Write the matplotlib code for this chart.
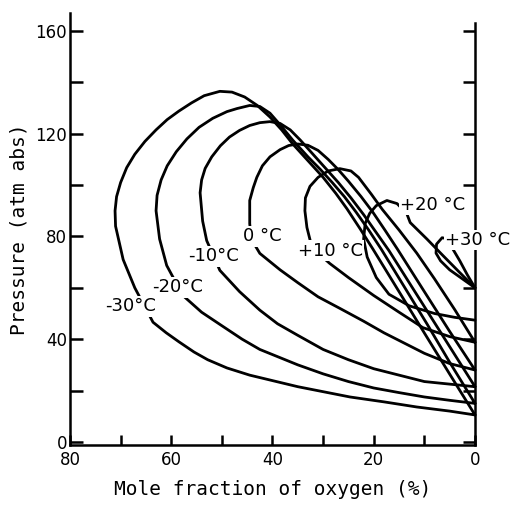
import matplotlib
matplotlib.use("Agg")
import matplotlib.pyplot as plt

# phase envelopes: mole fraction of O2 (%) vs pressure (atm abs)
# each list runs from x=0 along the lower branch, over the top, and back down to x=0
m30_x = [0, 5, 11.5, 18, 24.7, 35, 44.5, 49, 52.8, 55.5, 58.5, 61, 63.6, 67.2, 69.5, 71,
         71.1, 70.8, 70, 68.8, 67.2, 65.2, 63, 60.8, 58.5, 56, 53.5, 50.4, 48, 45.5, 43,
         40.5, 38.2, 36, 33, 30, 27.5, 25.3, 22.7, 20.2, 15, 10, 5, 0]
m30_p = [10.5, 12, 13.6, 15.6, 17.5, 21.5, 26, 28.8, 32, 35, 39, 42.5, 46.6, 60, 71, 84,
         90, 95.5, 101, 106.8, 112, 117, 121.5, 125.5, 128.8, 132, 134.8, 136.5, 136.2,
         134.3, 131, 126.5, 121.5, 116, 109.5, 103, 96.8, 90.8, 83, 75.2, 58.5, 42.4, 26.4,
         10.5]

m20_x = [0, 5, 10, 15, 20, 25, 30, 35, 38.5, 42.5, 46, 50.2, 54, 57.7, 60.9, 62.3, 63,
         62.8, 62, 60.8, 59, 56.9, 54.5, 51.8, 49, 47, 44.5, 42.5, 40.5, 38.5, 36, 33,
         30.5, 28.2, 25.8, 23.5, 21, 18.5, 14, 9.5, 5, 0]
m20_p = [15, 16.2, 17.5, 19.2, 21, 23.5, 26.5, 30, 32.8, 36, 40, 45.5, 50.5, 57, 68.7, 79,
         90, 96, 102, 107.5, 113, 118, 122.5, 126, 128.6, 129.8, 131, 130.6, 128, 123.5,
         117.5, 111, 106, 101, 95.5, 89.5, 82.5, 75, 60.5, 46, 31, 15]

m10_x = [0, 5, 10, 15, 20, 25, 30, 35, 39, 42.5, 46.5, 50.4, 53, 53.8, 54.3, 54, 53.3, 52,
         50.3, 48.5, 46.5, 44.5, 42.5, 40.5, 38.5, 36.5, 34.5, 32, 29.5, 27, 24.5, 22, 19.5,
         17, 12, 6, 0]
m10_p = [21.5, 22.5, 23.5, 26, 28.5, 32, 36, 41.5, 46, 51.3, 58.5, 66.8, 78.4, 86, 97,
         102, 106.5, 111, 115.3, 118.7, 121.3, 123.2, 124.3, 124.7, 124, 121.5, 117.5, 112,
         106.5, 101, 95, 88.5, 81.5, 74.5, 58.9, 40.2, 21.5]

z0_x = [0, 5, 10, 14, 18, 22, 26.7, 31, 35, 38.5, 42.5, 44.2, 44.5, 44.5, 43.8, 43.1, 42,
        40.5, 38.5, 36.8, 35, 33, 31, 29, 27, 25, 22.5, 20.2, 17.8, 15.3, 10, 5, 0]
z0_p = [28, 30.5, 34.5, 38.5, 42.5, 47, 52, 56.5, 62, 67, 73.4, 79, 85, 94, 99, 103,
        107.5, 111, 113.8, 115.4, 116, 115.5, 113.5, 110, 106, 101.5, 95.5, 89.5, 82.5, 75,
        58.5, 43, 28]

p10_x = [0, 5, 10.3, 15, 20, 25, 28.7, 31, 32.5, 33.2, 33.6, 33.5, 32.6, 31, 29, 26.7,
         24.5, 23, 20.5, 18.3, 15, 11.5, 8, 4, 0]
p10_p = [38.8, 41, 44.5, 50.5, 57, 64, 69.5, 73.5, 78, 83.5, 90, 95, 99.5, 103, 105.5,
         106.4, 105.5, 103, 96.5, 90.5, 82.5, 73.5, 63.5, 51.5, 38.8]

p20_x = [0, 4, 8, 13, 17, 19.5, 21.3, 22, 21.7, 20.8, 19.5, 17.4, 15.4, 13.5, 12.8, 9.5,
         6.4, 3.2, 0]
p20_p = [47.4, 48.5, 50, 53, 57.5, 64, 72, 79, 85, 89, 92, 94, 92.8, 89, 85.4, 79, 72.7,
         66.3, 60]

p30_x = [0, 2.5, 5, 6.8, 7.7, 7.6, 6.5, 5.2, 4.5, 3, 1.5, 0]
p30_p = [60, 63.5, 67, 70.5, 73.5, 77, 79.5, 79, 75.5, 70.5, 65, 60]

curves = [(m30_x, m30_p), (m20_x, m20_p), (m10_x, m10_p), (z0_x, z0_p),
          (p10_x, p10_p), (p20_x, p20_p), (p30_x, p30_p)]
temp_labels = ["-30°C", "-20°C", "-10°C", "0 °C", "+10 °C", "+20 °C", "+30 °C"]

x_major = [80, 60, 40, 20, 0]
x_minor = [70, 50, 30, 10]
y_major = [0, 40, 80, 120, 160]
y_minor = [20, 60, 100, 140]

plt.rcParams["font.family"] = ["DejaVu Sans"]

fig = plt.figure(figsize=(5.14, 5.12), dpi=100)
ax = fig.add_axes([70 / 514, 67 / 512, 405 / 514, 432 / 512])

for cx, cp in curves:
    ax.plot(cx, cp, color="black", lw=2.0, solid_joinstyle="round",
            solid_capstyle="round", clip_on=False, zorder=2)

# labels sit on white boxes so the curves break around them, as in the original
box = dict(facecolor="white", edgecolor="none", pad=1.0)
label_pos = [(73.1, 52.8), (63.8, 60.2), (56.7, 72.2), (45.8, 80),
             (35.0, 74.5), (14.8, 92.4), (5.9, 78.6)]
for txt, (lx, ly) in zip(temp_labels, label_pos):
    ax.text(lx, ly, txt, fontsize=13, ha="left", va="center", bbox=box, zorder=5)

ax.set_xlim(80, 0)
ax.set_ylim(-1.2, 167)

ax.set_xticks(x_major)
ax.set_xticks(x_minor, minor=True)
ax.set_yticks(y_major)
ax.set_yticks(y_minor, minor=True)
ax.tick_params(axis="both", which="both", direction="in", width=1.8,
               labelsize=12, colors="black")
ax.tick_params(axis="x", which="both", length=7, pad=4)
ax.tick_params(axis="y", which="both", length=9, pad=2, right=True)

ax.spines["top"].set_visible(False)
ax.spines["right"].set_bounds(-1.2, 163)
for s in ["left", "right", "bottom"]:
    ax.spines[s].set_linewidth(1.8)

ax.set_xlabel("Mole fraction of oxygen (%)", fontsize=14,
              family="DejaVu Sans Mono", labelpad=8)
ax.set_ylabel("Pressure (atm abs)", fontsize=14,
              family="DejaVu Sans Mono", labelpad=5)

fig.savefig("out.png", dpi=100, facecolor="white")
